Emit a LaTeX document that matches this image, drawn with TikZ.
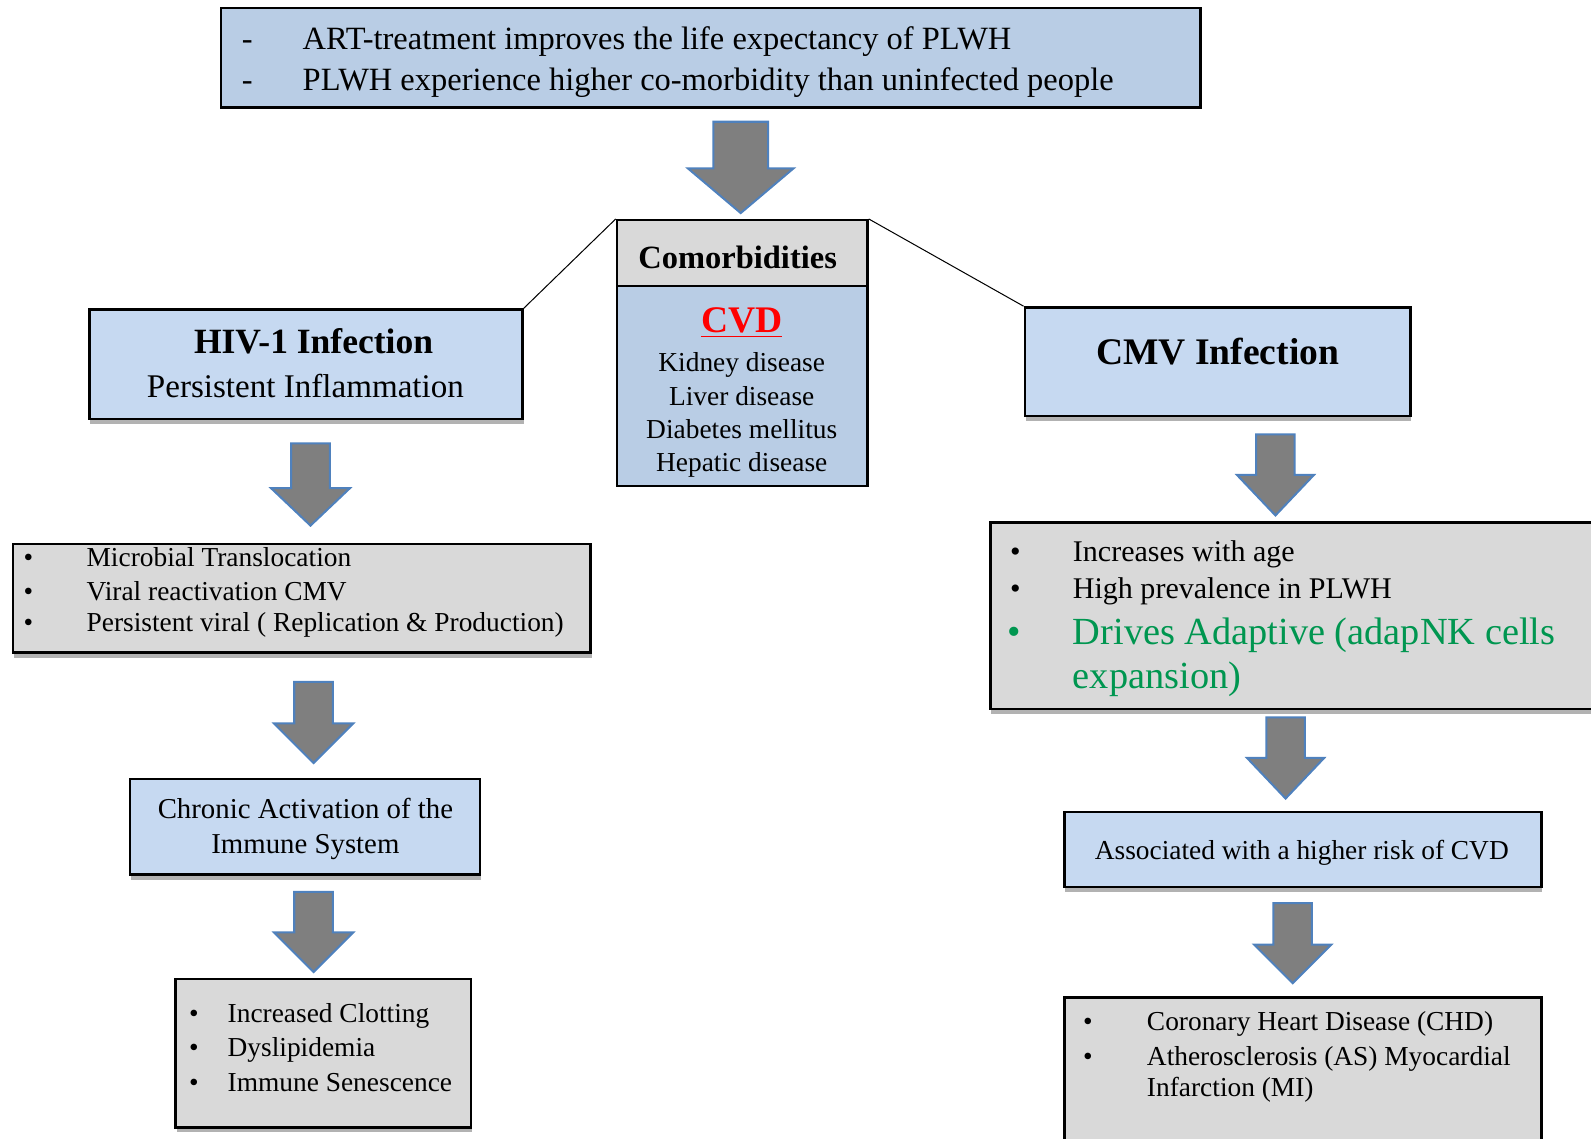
\documentclass[tikz,border=0pt]{standalone}
\usepackage{fontspec}
\setmainfont{Liberation Serif}
\usetikzlibrary{fit,shadows}

\definecolor{topblue}{RGB}{185,205,229}
\definecolor{boxblue}{RGB}{198,217,241}
\definecolor{boxgrey}{RGB}{217,217,217}
\definecolor{arrowgrey}{RGB}{127,127,127}
\definecolor{arrowblue}{RGB}{79,129,189}
\definecolor{drivegreen}{RGB}{0,150,80}

% fat grey arrow: x centre, top, head top, tip, half shaft, half head
\newcommand{\blockarrow}[6]{%
  \draw[blockarrow] ({#1-#5},#2) -- ({#1+#5},#2) -- ({#1+#5},#3) -- ({#1+#6},#3)
    -- (#1,#4) -- ({#1-#6},#3) -- ({#1-#5},#3) -- cycle;}
% list mark set in a box of given width
\newcommand{\listmark}[2]{\makebox[#1][l]{#2}}

\tikzset{
  box/.style={draw=black, line width=1.2pt, inner sep=0pt},
  bluebox/.style={box, fill=boxblue},
  greybox/.style={box, fill=boxgrey},
  shade/.style={drop shadow={shadow xshift=0.5pt, shadow yshift=-2.5pt, opacity=0.3, fill=black}},
  blockarrow/.style={fill=arrowgrey, draw=arrowblue, line width=1pt},
  txt/.style={inner sep=0pt, anchor=west},
  ctxt/.style={inner sep=0pt, align=center},
  toptext/.style={font=\fontsize{16pt}{19pt}\selectfont},
  listtext/.style={font=\fontsize{13.5pt}{16.4pt}\selectfont},
}

\begin{document}
\begin{tikzpicture}[x=0.5pt, y=-0.5pt]
    \clip (0,0) rectangle (1568,1122);

    % Top statement
    \node[box, fill=topblue, fit={(218,8) (1183,106)}] (top) {};
    \node[txt, toptext] (art) at (238,41) {\listmark{30pt}{-}ART-treatment improves the life expectancy of PLWH};
    \node[txt, toptext] (plwh) at (238,81) {\listmark{30pt}{-}PLWH experience higher co-morbidity than uninfected people};

    \blockarrow{730}{120}{166}{210}{27}{52}

    % Comorbidities
    \node[box, fill=boxgrey, fit={(608,217) (855,282)}] (como) {};
    \node[box, fill=topblue, fit={(608,282) (855,479)}] (comobody) {};
    \node[ctxt, font=\bfseries\fontsize{16pt}{19pt}\selectfont] (comotitle) at (727,254) {Comorbidities};
    \node[ctxt, text=red, font=\bfseries\fontsize{18.5pt}{22pt}\selectfont] (cvd) at (731,318) {\underline{CVD}};
    \node[ctxt, font=\fontsize{13.5pt}{16.3pt}\selectfont] (diseases) at (731,409)
        {Kidney disease\\Liver disease\\Diabetes mellitus\\Hepatic disease};

    % HIV-1 branch
    \node[bluebox, shade, fit={(88,305) (515,413)}] (hiv) {};
    \node[ctxt, font=\bfseries\fontsize{17.5pt}{21pt}\selectfont] (hivtitle) at (309,336) {HIV-1 Infection};
    \node[ctxt, font=\fontsize{16.3pt}{19pt}\selectfont] (inflam) at (301,380) {Persistent Inflammation};

    \blockarrow{306}{437}{481}{518}{19}{39}

    \node[greybox, shade, fit={(13,536) (582,643)}] (hivlist) {};
    \foreach \y/\item in {549/Microbial Translocation, 583/Viral reactivation CMV,
                          616/Persistent viral ( Replication \& Production)} {
        \node[txt, listtext] at (23,\y) {\listmark{31pt}{\textbullet}\item};
    }

    \blockarrow{309}{672}{713}{752}{19}{39}

    \node[bluebox, shade, fit={(128,768) (473,862)}] (chronic) {};
    \node[ctxt, font=\fontsize{14.2pt}{17.2pt}\selectfont] (chronictext) at (301,817)
        {Chronic Activation of the\\Immune System};

    \blockarrow{309}{879}{919}{958}{19}{39}

    \node[greybox, shade, fit={(173,965) (464,1111)}] (clot) {};
    \foreach \y/\item in {1001/Increased Clotting, 1035/Dyslipidemia, 1067/Immune Senescence} {
        \node[txt, listtext] at (186,\y) {\listmark{19pt}{\textbullet}\item};
    }

    % CMV branch
    \node[bluebox, shade, fit={(1010,303) (1390,410)}] (cmv) {};
    \node[ctxt, font=\bfseries\fontsize{18.5pt}{22pt}\selectfont] (cmvtitle) at (1200,346) {CMV Infection};

    \blockarrow{1257}{428}{468}{508}{19}{38}

    \node[greybox, shade, fit={(976,515) (1600,699)}] (cmvlist) {};
    \foreach \y/\item in {546/Increases with age, 583/High prevalence in PLWH} {
        \node[txt, font=\fontsize{14.8pt}{18pt}\selectfont] at (995,\y) {\listmark{31pt}{\textbullet}\item};
    }
    \node[txt, align=left, text=drivegreen, font=\fontsize{18.9pt}{21.5pt}\selectfont] (drives) at (993,648)
        {\listmark{32pt}{\textbullet}Drives Adaptive (adapNK cells\\\hspace*{32pt}expansion)};

    \blockarrow{1267}{707}{747}{787}{19}{38}

    \node[bluebox, shade, fit={(1049,800) (1519,874)}] (risk) {};
    \node[ctxt, listtext] (risktext) at (1283,840) {Associated with a higher risk of CVD};

    \blockarrow{1274}{890}{931}{969}{19}{38}

    \node[greybox, fit={(1049,983) (1519,1150)}] (chd) {};
    \node[txt, listtext] (chdtext) at (1067,1009) {\listmark{31.5pt}{\textbullet}Coronary Heart Disease (CHD)};
    \node[txt, align=left, font=\fontsize{13.5pt}{15.6pt}\selectfont] (astext) at (1067,1059)
        {\listmark{31.5pt}{\textbullet}Atherosclerosis (AS) Myocardial\\\hspace*{31.5pt}Infarction (MI)};

    % Links to the comorbidities
    \draw[line width=0.5pt] (como.north west) -- (hiv.north east);
    \draw[line width=0.5pt] (como.north east) -- (cmv.north west);
\end{tikzpicture}
\end{document}
